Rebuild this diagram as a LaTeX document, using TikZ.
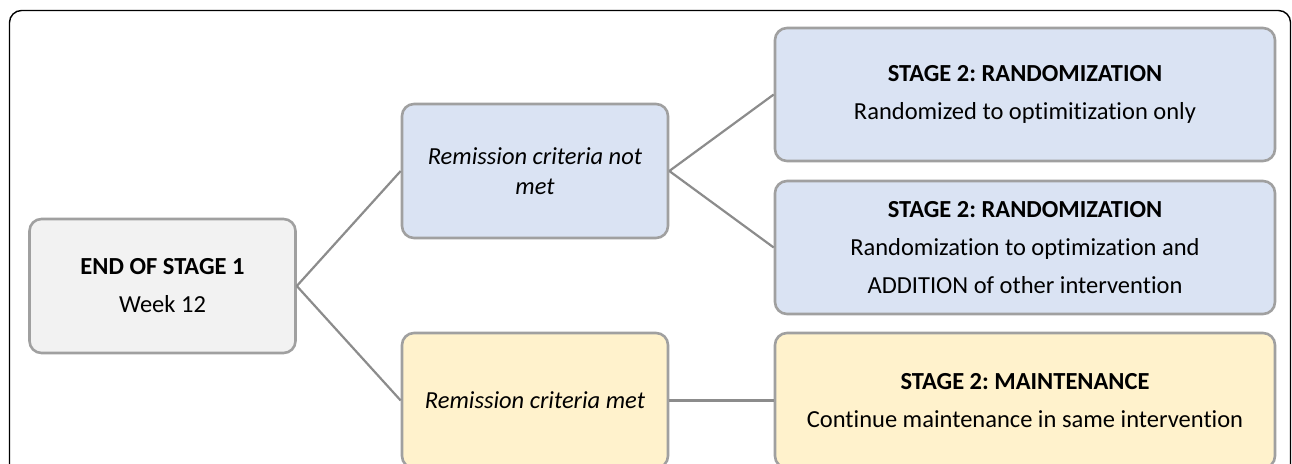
\documentclass[tikz,border=0pt]{standalone}
\usepackage{fontspec}
\setmainfont[Ligatures={NoCommon,NoRare}]{Carlito}
\frenchspacing
\definecolor{grayfill}{HTML}{F2F2F2}
\definecolor{bluefill}{HTML}{DAE3F3}
\definecolor{yellowfill}{HTML}{FFF2CC}
\definecolor{boxline}{HTML}{A0A0A0}
\definecolor{conline}{HTML}{8C8C8C}
\tikzset{
  x=1pt,y=-1pt,
  box/.style={draw=boxline,line width=2.6pt,rounded corners=12pt,align=center,
    font=\fontsize{24.5}{38}\selectfont,inner sep=0pt},
  smallbox/.style={box,minimum width=266pt,minimum height=134pt},
  bigbox/.style={box,minimum width=500pt,minimum height=133pt},
  con/.style={draw=conline,line width=2.2pt},
}
\begin{document}
\begin{tikzpicture}
\useasboundingbox (0,0) rectangle (1292,463);
\clip (0,0) rectangle (1292,463);
\fill[white] (0,0) rectangle (1292,463);
\draw[line width=1.4pt,rounded corners=12pt] (9.5,490) -- (9.5,10.5) -- (1290.5,10.5) -- (1290.5,490);
\node[smallbox,fill=grayfill] (end) at (162.5,286) {\textbf{END OF STAGE 1}\\Week 12};
\node[smallbox,fill=bluefill,font=\fontsize{24.5}{30}\selectfont] (notmet) at (535,171) {\textit{Remission criteria not}\\\textit{met}};
\node[smallbox,fill=yellowfill,minimum height=135pt] (met) at (535,400.5) {\textit{Remission criteria met}};
\node[bigbox,fill=bluefill] (sa) at (1025,94.5) {\textbf{STAGE 2: RANDOMIZATION}\\Randomized to optimitization only};
\node[bigbox,fill=bluefill] (sb) at (1025,247.5) {\textbf{STAGE 2: RANDOMIZATION}\\Randomization to optimization and\\ADDITION of other intervention};
\node[bigbox,fill=yellowfill,minimum height=135pt] (sc) at (1025,400.5) {\textbf{STAGE 2: MAINTENANCE}\\Continue maintenance in same intervention};
\draw[con] (end.east) -- (notmet.west);
\draw[con] (end.east) -- (met.west);
\draw[con] (notmet.east) -- (sa.west);
\draw[con] (notmet.east) -- (sb.west);
\draw[con] (met.east) -- (sc.west);
\end{tikzpicture}
\end{document}
